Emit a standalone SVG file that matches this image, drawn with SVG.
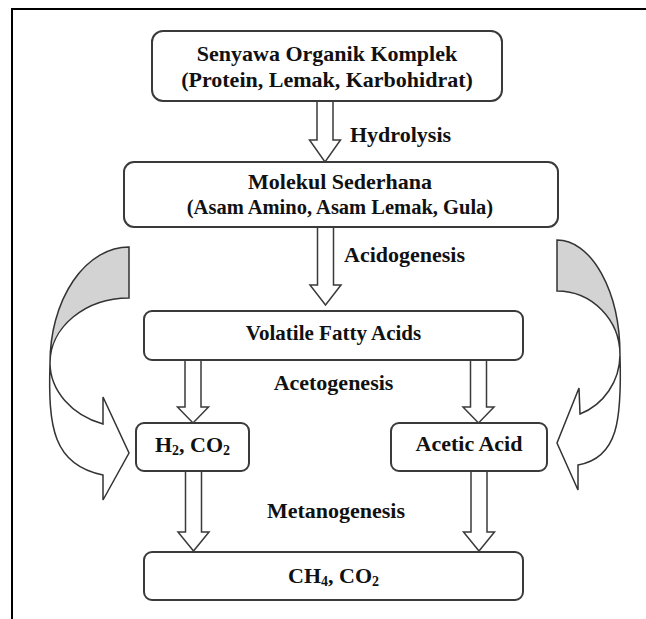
<svg xmlns="http://www.w3.org/2000/svg" width="646" height="619" viewBox="0 0 646 619">
<style>
.box{fill:#fff;stroke:#3a3a3a;stroke-width:2}
.arr{fill:#fff;stroke:#3a3a3a;stroke-width:1.5;stroke-linejoin:miter}
.cur{fill:#fff;stroke:#333;stroke-width:1.5;stroke-linejoin:miter}
.shade{fill:#d3d3d3;stroke:#333;stroke-width:1.5}
.t{font-family:"Liberation Serif","Times New Roman",serif;font-weight:bold;font-size:22px;fill:#111}
.c{text-anchor:middle}
.frame{stroke:#000;stroke-width:2;fill:none}
</style>
<rect width="646" height="619" fill="#fff"/>
<path class="frame" d="M12,619 V9 H646"/>
<g id="connectors">
  <path class="arr" d="M317,101 H333 V140 H340.5 L325,162 L309.5,140 H317 Z"/>
  <path class="arr" d="M317.5,227 H333.5 V285 H341 L325.5,305 L310,285 H317.5 Z"/>
  <path class="arr" d="M185,360 H201 V407 H208.5 L193,423 L177.5,407 H185 Z"/>
  <path class="arr" d="M470.5,360 H486.5 V407 H494 L478.5,423 L463,407 H470.5 Z"/>
  <path class="arr" d="M185.5,471 H201.5 V532 H209 L193.5,551 L178,532 H185.5 Z"/>
  <path class="arr" d="M471,471 H487 V532 H494.5 L479,551 L463.5,532 H471 Z"/>
  <g id="curved-left">
    <path class="shade" d="M129,247 A79,116 0 0 0 50,363 A79,65 0 0 1 129,298 Z"/>
    <path class="cur" d="M50,363 A79,65 0 0 0 103,424 L103,397 L129,453 L103,500 L103,475 C53,465 48,427 50,363 Z"/>
  </g>
  <g id="curved-right">
    <path class="shade" d="M557,240 A63,115 0 0 1 620,355 A63,64 0 0 0 557,291 Z"/>
    <path class="cur" d="M620,355 A63,64 0 0 1 580,414 L579,388 L557,443 L578,490 L578,465 C618,458 622,420 620,355 Z"/>
  </g>
  <text class="t" x="350" y="142">Hydrolysis</text>
  <text class="t" x="344" y="262">Acidogenesis</text>
  <text class="t c" x="333.5" y="390">Acetogenesis</text>
  <text class="t c" x="336" y="518">Metanogenesis</text>
</g>
<g id="senyawa">
  <rect class="box" x="152" y="31" width="350" height="70" rx="11"/>
  <text class="t c" x="327" y="61">Senyawa Organik Komplek</text>
  <text class="t c" x="327" y="87">(Protein, Lemak, Karbohidrat)</text>
</g>
<g id="molekul">
  <rect class="box" x="124" y="162" width="434" height="65" rx="10"/>
  <text class="t c" x="340" y="189" font-size="21">Molekul Sederhana</text>
  <text class="t c" x="340" y="214" style="font-size:20.5px">(Asam Amino, Asam Lemak, Gula)</text>
</g>
<g id="vfa">
  <rect class="box" x="144" y="311" width="379" height="49" rx="8"/>
  <text class="t c" x="333.5" y="340" style="font-size:21px">Volatile Fatty Acids</text>
</g>
<g id="h2co2">
  <rect class="box" x="136" y="423" width="113" height="48" rx="8"/>
  <text class="t c" x="192.5" y="452">H<tspan font-size="14" dy="3">2</tspan><tspan dy="-3">, CO</tspan><tspan font-size="14" dy="3">2</tspan></text>
</g>
<g id="acetic">
  <rect class="box" x="391" y="423" width="156" height="48" rx="8"/>
  <text class="t c" x="469" y="451">Acetic Acid</text>
</g>
<g id="ch4co2">
  <rect class="box" x="144" y="552" width="379" height="48" rx="8"/>
  <text class="t c" x="333.5" y="583">CH<tspan font-size="14" dy="3">4</tspan><tspan dy="-3">, CO</tspan><tspan font-size="14" dy="3">2</tspan></text>
</g>
</svg>
